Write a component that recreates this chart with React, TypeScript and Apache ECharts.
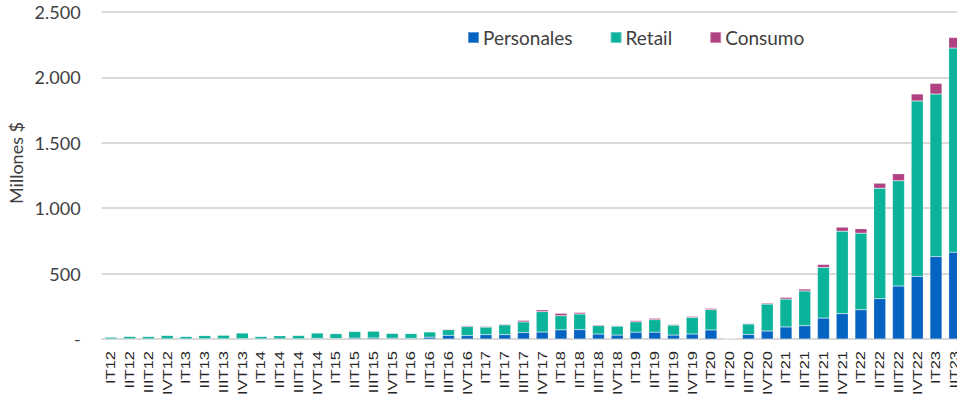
import React, { useEffect, useRef } from "react";
import * as echarts from "echarts";

const categories = [
  "IT12", "IIT12", "IIIT12", "IVT12",
  "IT13", "IIT13", "IIIT13", "IVT13",
  "IT14", "IIT14", "IIIT14", "IVT14",
  "IT15", "IIT15", "IIIT15", "IVT15",
  "IT16", "IIT16", "IIIT16", "IVT16",
  "IT17", "IIT17", "IIIT17", "IVT17",
  "IT18", "IIT18", "IIIT18", "IVT18",
  "IT19", "IIT19", "IIIT19", "IVT19",
  "IT20", "IIT20", "IIIT20", "IVT20",
  "IT21", "IIT21", "IIIT21", "IVT21",
  "IT22", "IIT22", "IIIT22", "IVT22",
  "IT23", "IIT23",
];

const personales = [
  1, 1, 1, 2, 1, 2, 2, 3, 1, 2, 2, 5,
  4, 7, 8, 6, 6, 14, 28, 26, 33, 33, 49, 53,
  70, 72, 38, 30, 52, 52, 30, 38, 69, 2, 35, 61,
  92, 102, 160, 194, 224, 308, 405, 479, 631, 664,
];

const retail = [
  13, 18, 18, 25, 18, 24, 27, 43, 18, 23, 25, 41,
  37, 51, 52, 37, 35, 40, 43, 69, 58, 75, 81, 156,
  108, 119, 64, 68, 79, 95, 76, 127, 155, 1, 80, 206,
  213, 265, 387, 630, 585, 845, 805, 1341, 1242, 1560,
];

const consumo = [
  1, 1, 1, 1, 1, 1, 1, 2, 1, 1, 1, 1,
  1, 2, 2, 2, 2, 3, 5, 7, 6, 6, 12, 14,
  18, 12, 7, 5, 10, 11, 6, 8, 10, 0, 5, 8,
  13, 15, 23, 31, 34, 38, 53, 53, 81, 81,
];

const yTicks = [0, 500, 1000, 1500, 2000, 2500];

const FONT = "Lato";
const TEXT_COLOR = "#404040";

function fmt(v: number): string {
  if (v === 0) return "-";
  return String(v).replace(/\B(?=(\d{3})+(?!\d))/g, ".");
}

export default function App() {
  const ref = useRef<HTMLDivElement>(null);

  useEffect(() => {
    document.body.style.margin = "0";
    document.body.style.overflow = "hidden";
    if (!ref.current) return;
    const chart = echarts.init(ref.current, null, { renderer: "svg" });
    const option: any = {
      animation: false,
      backgroundColor: "#ffffff",
      textStyle: { fontFamily: FONT },
      grid: {
        left: 101.6,
        top: 12,
        width: 862.5,
        bottom: 64,
        containLabel: false,
        outerBoundsMode: "none",
      },
      legend: {
        data: ["Personales", "Retail", "Consumo"],
        left: 462,
        top: 23,
        icon: "rect",
        itemWidth: 11,
        itemHeight: 11,
        itemGap: 37,
        textStyle: { fontFamily: FONT, fontSize: 19, color: TEXT_COLOR, padding: [0, 0, 0, -1] },
      },
      graphic: [
        {
          type: "text",
          x: 16,
          y: 163,
          rotation: Math.PI / 2,
          style: {
            text: "Millones $",
            fontFamily: FONT,
            fontSize: 18,
            fill: TEXT_COLOR,
            align: "center",
            verticalAlign: "middle",
          },
        },
      ],
      xAxis: {
        type: "category",
        data: categories,
        axisLine: { show: true, lineStyle: { color: "#d9d9d9", width: 2 } },
        axisTick: { show: false },
        axisLabel: { show: false },
      },
      yAxis: {
        type: "value",
        min: yTicks[0],
        max: yTicks[yTicks.length - 1],
        interval: 500,
        axisLine: { show: false },
        axisTick: { show: false },
        splitLine: { show: true, lineStyle: { color: "#d9d9d9", width: 2 } },
        axisLabel: {
          margin: 21,
          fontFamily: FONT,
          fontSize: 18,
          color: TEXT_COLOR,
          formatter: (v: number) => fmt(v),
        },
      },
      series: [
        {
          name: "Personales",
          type: "bar",
          stack: "total",
          data: personales,
          barWidth: 12,
          itemStyle: { color: "#0563C1", borderColor: "rgba(255,255,255,0.35)", borderWidth: 0.5 },
        },
        {
          name: "Retail",
          type: "bar",
          stack: "total",
          data: retail,
          barWidth: 12,
          itemStyle: { color: "#0BB39B", borderColor: "rgba(255,255,255,0.35)", borderWidth: 0.5 },
        },
        {
          name: "Consumo",
          type: "bar",
          stack: "total",
          data: consumo,
          barWidth: 12,
          itemStyle: { color: "#B04283", borderColor: "rgba(255,255,255,0.35)", borderWidth: 0.5 },
        },
        {
          name: "xLabels",
          type: "custom",
          silent: true,
          clip: false,
          data: categories.map((c, i) => [i, 0]),
          renderItem: (params: any, api: any) => {
            const pt = api.coord([api.value(0), 0]);
            return {
              type: "text",
              x: pt[0],
              y: pt[1] + 12,
              rotation: Math.PI / 2,
              scaleX: 1,
              scaleY: 0.78,
              style: {
                text: categories[params.dataIndex],
                fontFamily: "Liberation Sans",
                fontSize: 16.5,
                fill: "#262626",
                align: "right",
                verticalAlign: "middle",
              },
            };
          },
        },
      ],
    };
    chart.setOption(option);
    return () => {
      chart.dispose();
    };
  }, []);

  return <div ref={ref} style={{ width: 957, height: 403 }} />;
}
